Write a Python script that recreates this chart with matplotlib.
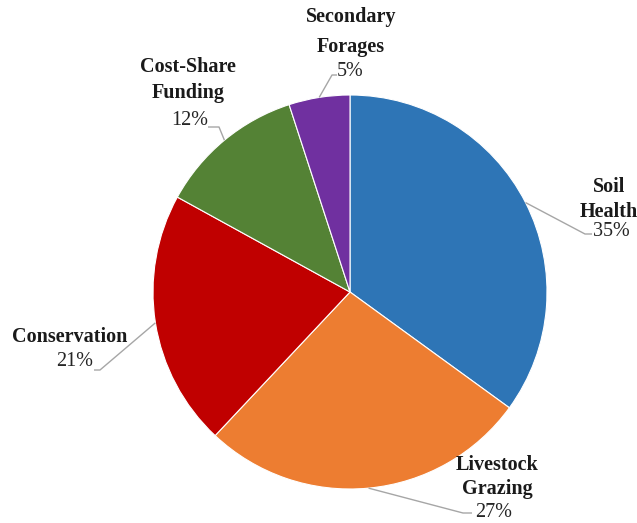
import numpy as np
import matplotlib
matplotlib.use("Agg")
import matplotlib.pyplot as plt

# ---- data ----
categories = [["Soil", "Health"], ["Livestock", "Grazing"], ["Conservation"],
              ["Cost-Share", "Funding"], ["Secondary", "Forages"]]
values = [35, 27, 21, 12, 5]
pct_labels = ["35%", "27%", "21%", "12%", "5%"]
colors = ["#2E75B6", "#ED7D31", "#C00000", "#548235", "#7030A0"]

# ---- layout (pixel coords, y from top; text y = baseline) ----
W, H = 637, 523
center_px = (350, 292)
radius_px = 197
name_x = [609, 497, 70, 188, 351]
name_baselines = [[192, 217], [470, 494], [342], [72, 98], [22, 52]]
pct_pos = [(611, 236), (494, 517), (75, 366), (190, 125), (350, 76)]
elbow = [(585, 234), (463, 513), (100, 370), (219, 127), (332, 75)]
line_end = [(592, 234), (472, 513), (94, 370), (208, 127), (337, 75)]

plt.rcParams['font.family'] = ['Liberation Serif', 'DejaVu Serif']

fig = plt.figure(figsize=(W / 100, H / 100), dpi=100)
ax = fig.add_axes([0, 0, 1, 1])

def fy(y):
    return H - y

wedges, _ = ax.pie(values, colors=colors, startangle=90, counterclock=False,
                   center=(center_px[0], fy(center_px[1])), radius=radius_px,
                   wedgeprops=dict(edgecolor='white', linewidth=0.8))
ax.set_xlim(0, W)
ax.set_ylim(0, H)
ax.set_aspect('equal')
ax.axis('off')

for i, w in enumerate(wedges):
    mid = np.deg2rad((w.theta1 + w.theta2) / 2)
    ax_x = w.center[0] + w.r * np.cos(mid)
    ax_y = w.center[1] + w.r * np.sin(mid)
    ex, ey = elbow[i]
    lx, ly = line_end[i]
    ax.plot([ax_x, ex, lx], [ax_y, fy(ey), fy(ly)], color="#A6A6A6", lw=1.0,
            solid_capstyle='butt', zorder=1)
    for line, by in zip(categories[i], name_baselines[i]):
        ax.text(name_x[i], fy(by), line, ha='center', va='baseline', fontsize=14.5,
                fontweight='bold', color='#1a1a1a')
    px, py = pct_pos[i]
    ax.text(px, fy(py), pct_labels[i], ha='center', va='baseline', fontsize=14.5,
            color='#262626')

fig.savefig("out.png", dpi=100)
